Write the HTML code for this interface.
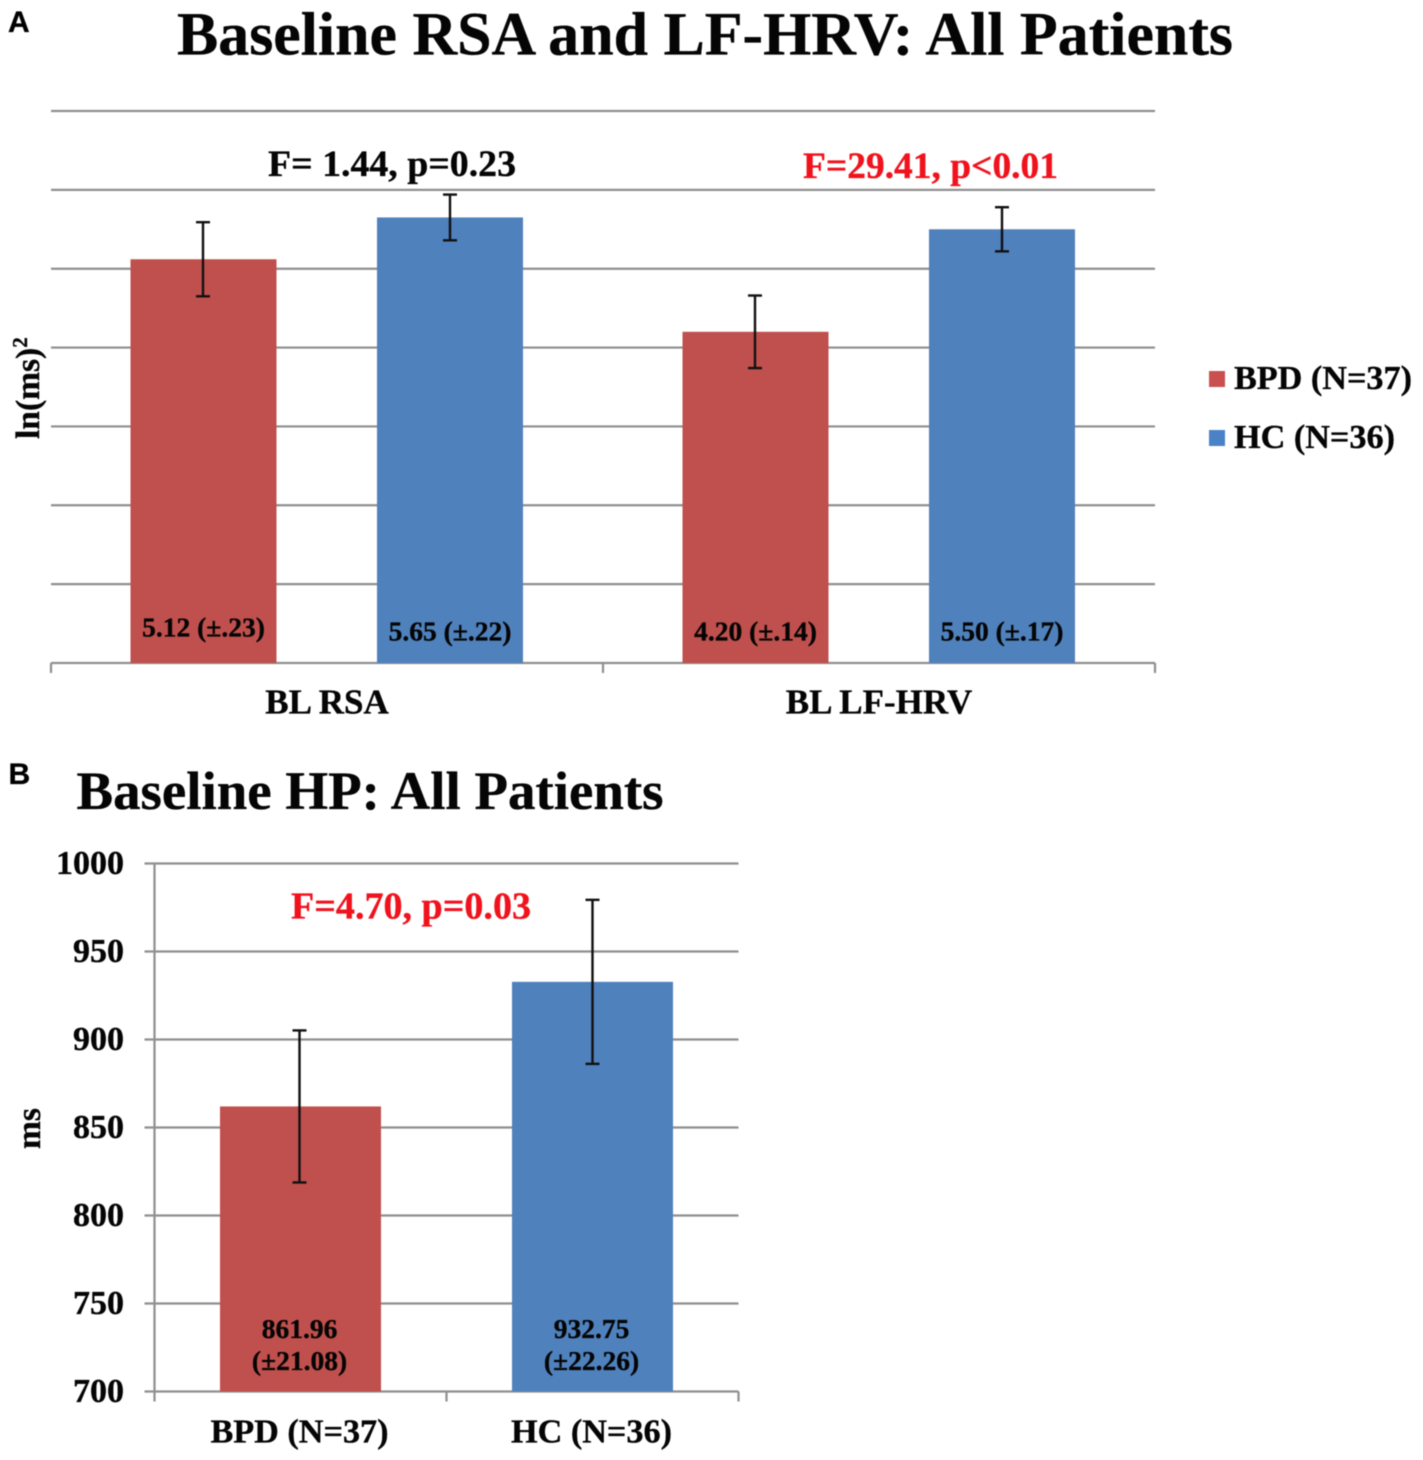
<!DOCTYPE html>
<html lang="en">
<head>
<meta charset="utf-8">
<title>Baseline RSA, LF-HRV and HP</title>
<style>
html,body{margin:0;padding:0;background:#fff;width:1423px;height:1460px;overflow:hidden}
svg{display:block;filter:blur(.6px)}
text{font-family:"Liberation Serif",serif;font-weight:bold;fill:#050505;stroke:#050505;stroke-width:.35px}
.panel{font-family:"Liberation Sans",sans-serif;font-size:30px;fill:#000;stroke:#000}
.red{fill:#f0121c;stroke:#f0121c}
</style>
</head>
<body>
<svg id="figure" xmlns="http://www.w3.org/2000/svg" width="1423" height="1460" viewBox="0 0 1423 1460">
  <rect x="0" y="0" width="1423" height="1460" fill="#fff"/>
  <text class="panel" x="8" y="32">A</text>
  <text x="177" y="54.5" font-size="61" textLength="1056" lengthAdjust="spacingAndGlyphs">Baseline RSA and LF-HRV: All Patients</text>
  <g id="chartA"></g>
  <text transform="translate(39,439) rotate(-90)" font-size="33.5">ln(ms)<tspan font-size="21" dy="-12">2</tspan></text>
  <text x="268" y="176" font-size="37.5" textLength="248" lengthAdjust="spacingAndGlyphs">F= 1.44, p=0.23</text>
  <text class="red" x="803" y="178" font-size="37.5" textLength="255" lengthAdjust="spacingAndGlyphs">F=29.41, p&lt;0.01</text>
  <g>
    <rect x="1209" y="371" width="16" height="16" fill="#c9504f"/>
    <text x="1234" y="389" font-size="34" textLength="178" lengthAdjust="spacingAndGlyphs">BPD (N=37)</text>
    <rect x="1209" y="430" width="16" height="16" fill="#4a82c8"/>
    <text x="1234" y="448" font-size="34" textLength="161" lengthAdjust="spacingAndGlyphs">HC (N=36)</text>
  </g>

  <text class="panel" x="8.5" y="784">B</text>
  <text x="76.5" y="809" font-size="54.5" textLength="587" lengthAdjust="spacingAndGlyphs">Baseline HP: All Patients</text>
  <g id="chartB"></g>
  <text transform="translate(40,1149) rotate(-90)" font-size="33.5">ms</text>
  <text class="red" x="291" y="918.5" font-size="37.9" textLength="240" lengthAdjust="spacingAndGlyphs">F=4.70, p=0.03</text>
</svg>
<script>
// Chart A data
const aGroups = ["BL RSA", "BL LF-HRV"];
const aTicks = [0, 1, 2, 3, 4, 5, 6, 7];
const aBpd = [5.12, 4.20];
const aHc = [5.65, 5.50];
const aBpdErr = [0.47, 0.46];
const aHcErr = [0.29, 0.28];
const aBpdLabels = ["5.12 (±.23)", "4.20 (±.14)"];
const aHcLabels = ["5.65 (±.22)", "5.50 (±.17)"];

// Chart B data
const bCategories = ["BPD (N=37)", "HC (N=36)"];
const bTicks = [700, 750, 800, 850, 900, 950, 1000];
const bValues = [861.96, 932.75];
const bErr = [43.2, 46.6];
const bLabelLine1 = ["861.96", "932.75"];
const bLabelLine2 = ["(±21.08)", "(±22.26)"];

const NS = "http://www.w3.org/2000/svg";
const RED = "#c0504d", BLUE = "#4f81bd", GRID = "#8f8f8f";

function mk(parent, tag, attrs, content) {
  const el = document.createElementNS(NS, tag);
  for (const k in attrs) el.setAttribute(k, attrs[k]);
  if (content !== undefined) el.textContent = content;
  parent.appendChild(el);
  return el;
}
function lineEl(parent, x1, y1, x2, y2, color, w) {
  return mk(parent, "line", {x1: x1, y1: y1, x2: x2, y2: y2, stroke: color, "stroke-width": w});
}
function errorBar(parent, x, yHi, yLo, name) {
  const g = mk(parent, "g", {});
  
  
  lineEl(g, x, yHi, x, yLo, "#111", 2.4);
  lineEl(g, x - 7, yHi, x + 7, yHi, "#111", 2.4);
  lineEl(g, x - 7, yLo, x + 7, yLo, "#111", 2.4);
}

/* ---------- Chart A ---------- */
(function () {
  const root = document.getElementById("chartA");
  const left = 51, right = 1155, y0 = 663, yTop = 111;
  const yMax = aTicks[aTicks.length - 1];
  const yA = v => y0 - (v / yMax) * (y0 - yTop);
  const band = (right - left) / aGroups.length;
  const barW = 146;
  const xBpd = i => left + band * i + 152.5;
  const xHc = i => left + band * i + 399;

  aTicks.forEach(t => {
    const l = lineEl(root, left, yA(t), right, yA(t), GRID, 2.2);
    
    
  });
  for (let i = 0; i <= aGroups.length; i++) {
    const x = left + band * i;
    const l = lineEl(root, x, y0, x, y0 + 10, GRID, 2.2);
    
    
  }
  aGroups.forEach((g, i) => {
    const b1 = mk(root, "rect", {x: xBpd(i) - barW / 2, y: yA(aBpd[i]), width: barW, height: y0 - yA(aBpd[i]), fill: RED});
    
    
    const b2 = mk(root, "rect", {x: xHc(i) - barW / 2, y: yA(aHc[i]), width: barW, height: y0 - yA(aHc[i]), fill: BLUE});
    
    
    errorBar(root, xBpd(i) - 0.5, yA(aBpd[i] + aBpdErr[i]), yA(aBpd[i] - aBpdErr[i]), 'error-bar-bpd');
    errorBar(root, xHc(i), yA(aHc[i] + aHcErr[i]), yA(aHc[i] - aHcErr[i]), 'error-bar-hc');
    const lift = i === 0 ? 4 : 0;
    const t1 = mk(root, "text", {x: xBpd(i), y: 640.5 - lift, "text-anchor": "middle", "font-size": 27.5}, aBpdLabels[i]);
    
    
    const t2 = mk(root, "text", {x: xHc(i), y: 640.5, "text-anchor": "middle", "font-size": 27.5}, aHcLabels[i]);
    
    
    const c = mk(root, "text", {x: left + band * i + band / 2, y: 713.5, "text-anchor": "middle", "font-size": 35}, g);
    
    
  });
})();

/* ---------- Chart B ---------- */
(function () {
  const root = document.getElementById("chartB");
  const left = 154.5, right = 738.5, y0 = 1391.5, yTop = 863.5;
  const yMin = bTicks[0], yMax = bTicks[bTicks.length - 1];
  const yB = v => y0 - ((v - yMin) / (yMax - yMin)) * (y0 - yTop);
  const band = (right - left) / bCategories.length;
  const barW = 161;
  const xC = i => left + band * i + band / 2;

  bTicks.forEach(t => {
    const l = lineEl(root, left - 10, yB(t), right, yB(t), GRID, 2.2);
    
    
    const lab = mk(root, "text", {x: 124, y: yB(t) + 10.5, "text-anchor": "end", "font-size": 34}, String(t));
    
    
  });
  const axis = lineEl(root, left, yTop, left, y0, GRID, 2.2);
  
  
  for (let i = 0; i <= bCategories.length; i++) {
    const x = left + band * i;
    const l = lineEl(root, x, y0, x, y0 + 10, GRID, 2.2);
    
    
  }
  bCategories.forEach((c, i) => {
    const b = mk(root, "rect", {x: xC(i) - barW / 2, y: yB(bValues[i]), width: barW, height: y0 - yB(bValues[i]), fill: i === 0 ? RED : BLUE});
    
    
    errorBar(root, xC(i) - (i === 0 ? 1 : 0), yB(bValues[i] + bErr[i]), yB(bValues[i] - bErr[i]), 'error-bar-hp');
    const t1 = mk(root, "text", {x: xC(i) - 1, y: 1338, "text-anchor": "middle", "font-size": 27.5}, bLabelLine1[i]);
    
    
    const t2 = mk(root, "text", {x: xC(i) - 1, y: 1370, "text-anchor": "middle", "font-size": 27.5}, bLabelLine2[i]);
    
    
    const lab = mk(root, "text", {x: xC(i) - 1, y: 1442.5, "text-anchor": "middle", "font-size": 34.2}, c);
    
    
  });
})();
</script>
</body>
</html>
